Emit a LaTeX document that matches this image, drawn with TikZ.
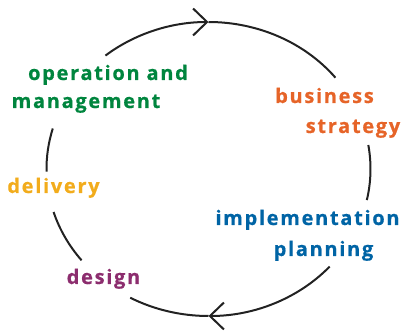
\documentclass[tikz,border=0pt]{standalone}
\usepackage{fontspec}
\setmainfont{Open Sans}
\newfontfamily\stagefont{Open Sans}[LetterSpace=8.5, BoldFeatures={FakeBold=0.6}]
\usepackage{tikz}
\usetikzlibrary{arrows.meta, calc}
\definecolor{opgreen}{RGB}{0,133,62}
\definecolor{bizorange}{RGB}{230,100,40}
\definecolor{planblue}{RGB}{0,100,165}
\definecolor{delyellow}{RGB}{242,172,28}
\definecolor{desplum}{RGB}{140,45,110}
\definecolor{ringgray}{RGB}{34,34,34}

\tikzset{
  ring/.style={line width=2pt, ringgray},
  ringarrow/.style={ring, -{Straight Barb[length=14pt, width=27pt, line width=2pt]}},
  stage/.style={font=\stagefont\fontsize{20}{22}\selectfont\bfseries, anchor=base, inner sep=0pt}
}

\begin{document}
\begin{tikzpicture}[x=1pt, y=1pt]
  \useasboundingbox (0,0) rectangle (402,335);
  \coordinate (c) at (208.5,166);
  \def\rx{162}
  \def\ry{147}

  % Ring segments (clockwise)
  \draw[ringarrow] ($(c)+(129.5:\rx pt and \ry pt)$) arc[start angle=129.5, end angle=90, x radius=\rx, y radius=\ry];
  \draw[ring] ($(c)+(90:\rx pt and \ry pt)$) arc[start angle=90, end angle=38.4, x radius=\rx, y radius=\ry];
  \draw[ring] ($(c)+(9.4:\rx pt and \ry pt)$) arc[start angle=9.4, end angle=-12.2, x radius=\rx, y radius=\ry];
  \draw[ringarrow] ($(c)+(-41.6:\rx pt and \ry pt)$) arc[start angle=-41.6, end angle=-90, x radius=\rx, y radius=\ry];
  \draw[ring] ($(c)+(-90:\rx pt and \ry pt)$) arc[start angle=-90, end angle=-118.9, x radius=\rx, y radius=\ry];
  \draw[ring] ($(c)+(-141.6:\rx pt and \ry pt)$) arc[start angle=-141.6, end angle=-163, x radius=\rx, y radius=\ry];
  \draw[ring] ($(c)+(-179:\rx pt and \ry pt)$) arc[start angle=-179, end angle=-196, x radius=\rx, y radius=\ry];

  % Stages
  \node[stage, opgreen] (oper) at (108,255) {operation and};
  \node[stage, opgreen] (mgmt) at (86,227) {management};
  \node[stage, bizorange] (biz) at (324.5,232) {business};
  \node[stage, bizorange] (strat) at (353,202) {strategy};
  \node[stage, planblue] (impl) at (307.5,110) {implementation};
  \node[stage, planblue] (plan) at (323.5,79) {planning};
  \node[stage, delyellow] (deliv) at (53.5,142) {delivery};
  \node[stage, desplum] (des) at (103.5,51) {design};
\end{tikzpicture}
\end{document}
